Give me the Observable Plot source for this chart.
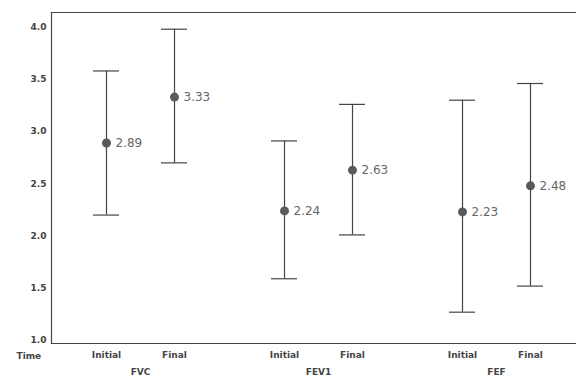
<!DOCTYPE html>
<html>
<head>
<meta charset="utf-8">
<script src="https://cdn.jsdelivr.net/npm/d3@7"></script>
<script src="https://cdn.jsdelivr.net/npm/@observablehq/plot@0.6"></script>
<style>
  html, body { margin: 0; padding: 0; background: white; overflow: hidden; }
  #chart { width: 576px; height: 376px; overflow: hidden; }
</style>
</head>
<body>
<div id="chart"></div>
<script>
const measures = ["FVC", "FEV1", "FEF"];
const times = ["Initial", "Final"];
const means = [2.89, 3.33, 2.24, 2.63, 2.23, 2.48];
const lows  = [2.20, 2.70, 1.59, 2.01, 1.27, 1.52];
const highs = [3.58, 3.98, 2.91, 3.26, 3.30, 3.46];
const yTicks = [1.0, 1.5, 2.0, 2.5, 3.0, 3.5, 4.0];
const xTitle = "Time";

const data = means.map((m, i) => ({
  measure: measures[Math.floor(i / 2)],
  time: times[i % 2],
  mean: m,
  low: lows[i],
  high: highs[i]
}));

const ink = "#444";
const chart = Plot.plot({
  width: 576,
  height: 376,
  marginLeft: 50,
  marginRight: -9,
  marginTop: 12,
  marginBottom: 33,
  style: { fontFamily: "'DejaVu Sans', sans-serif", background: "white" },
  fx: { domain: measures, padding: 0 },
  x: { type: "band", domain: times, paddingInner: 0.623, paddingOuter: 0.6035 },
  y: { domain: [0.97, 4.14] },
  marks: [
    Plot.frame({ anchor: "top", stroke: ink, strokeWidth: 1.2 }),
    Plot.frame({ anchor: "bottom", stroke: ink, strokeWidth: 1.2 }),
    Plot.frame({ anchor: "left", stroke: ink, strokeWidth: 1.2, facetAnchor: "left" }),
    Plot.axisY({
      ticks: yTicks, tickSize: 0, tickPadding: 5, tickFormat: d3.format(".1f"),
      fontWeight: "bold", fontSize: 9, fill: ink, label: null
    }),
    Plot.axisX({
      tickSize: 0, tickPadding: 8, fontWeight: "bold", fontSize: 9, fill: ink, label: null
    }),
    Plot.axisFx({
      anchor: "bottom", tickSize: 0, tickPadding: 25, fontWeight: "bold", fontSize: 9, fill: ink, label: null
    }),
    Plot.text([xTitle], {
      text: d => d, frameAnchor: "bottom-left", facetAnchor: "left",
      dx: -35, dy: 15, textAnchor: "start", fontWeight: "bold", fontSize: 9, fill: ink
    }),
    Plot.ruleX(data, { fx: "measure", x: "time", y1: "low", y2: "high", stroke: ink, strokeWidth: 1.2 }),
    Plot.tickY(data, { fx: "measure", x: "time", y: "low", stroke: ink, strokeWidth: 1.2 }),
    Plot.tickY(data, { fx: "measure", x: "time", y: "high", stroke: ink, strokeWidth: 1.2 }),
    Plot.dot(data, { fx: "measure", x: "time", y: "mean", r: 4.5, fill: "#5a5a5a", stroke: null }),
    Plot.text(data, {
      fx: "measure", x: "time", y: "mean", text: d => d.mean.toFixed(2),
      dx: 9, textAnchor: "start", fontSize: 12, fill: "#666"
    })
  ]
});
document.getElementById("chart").appendChild(chart);
</script>
</body>
</html>
